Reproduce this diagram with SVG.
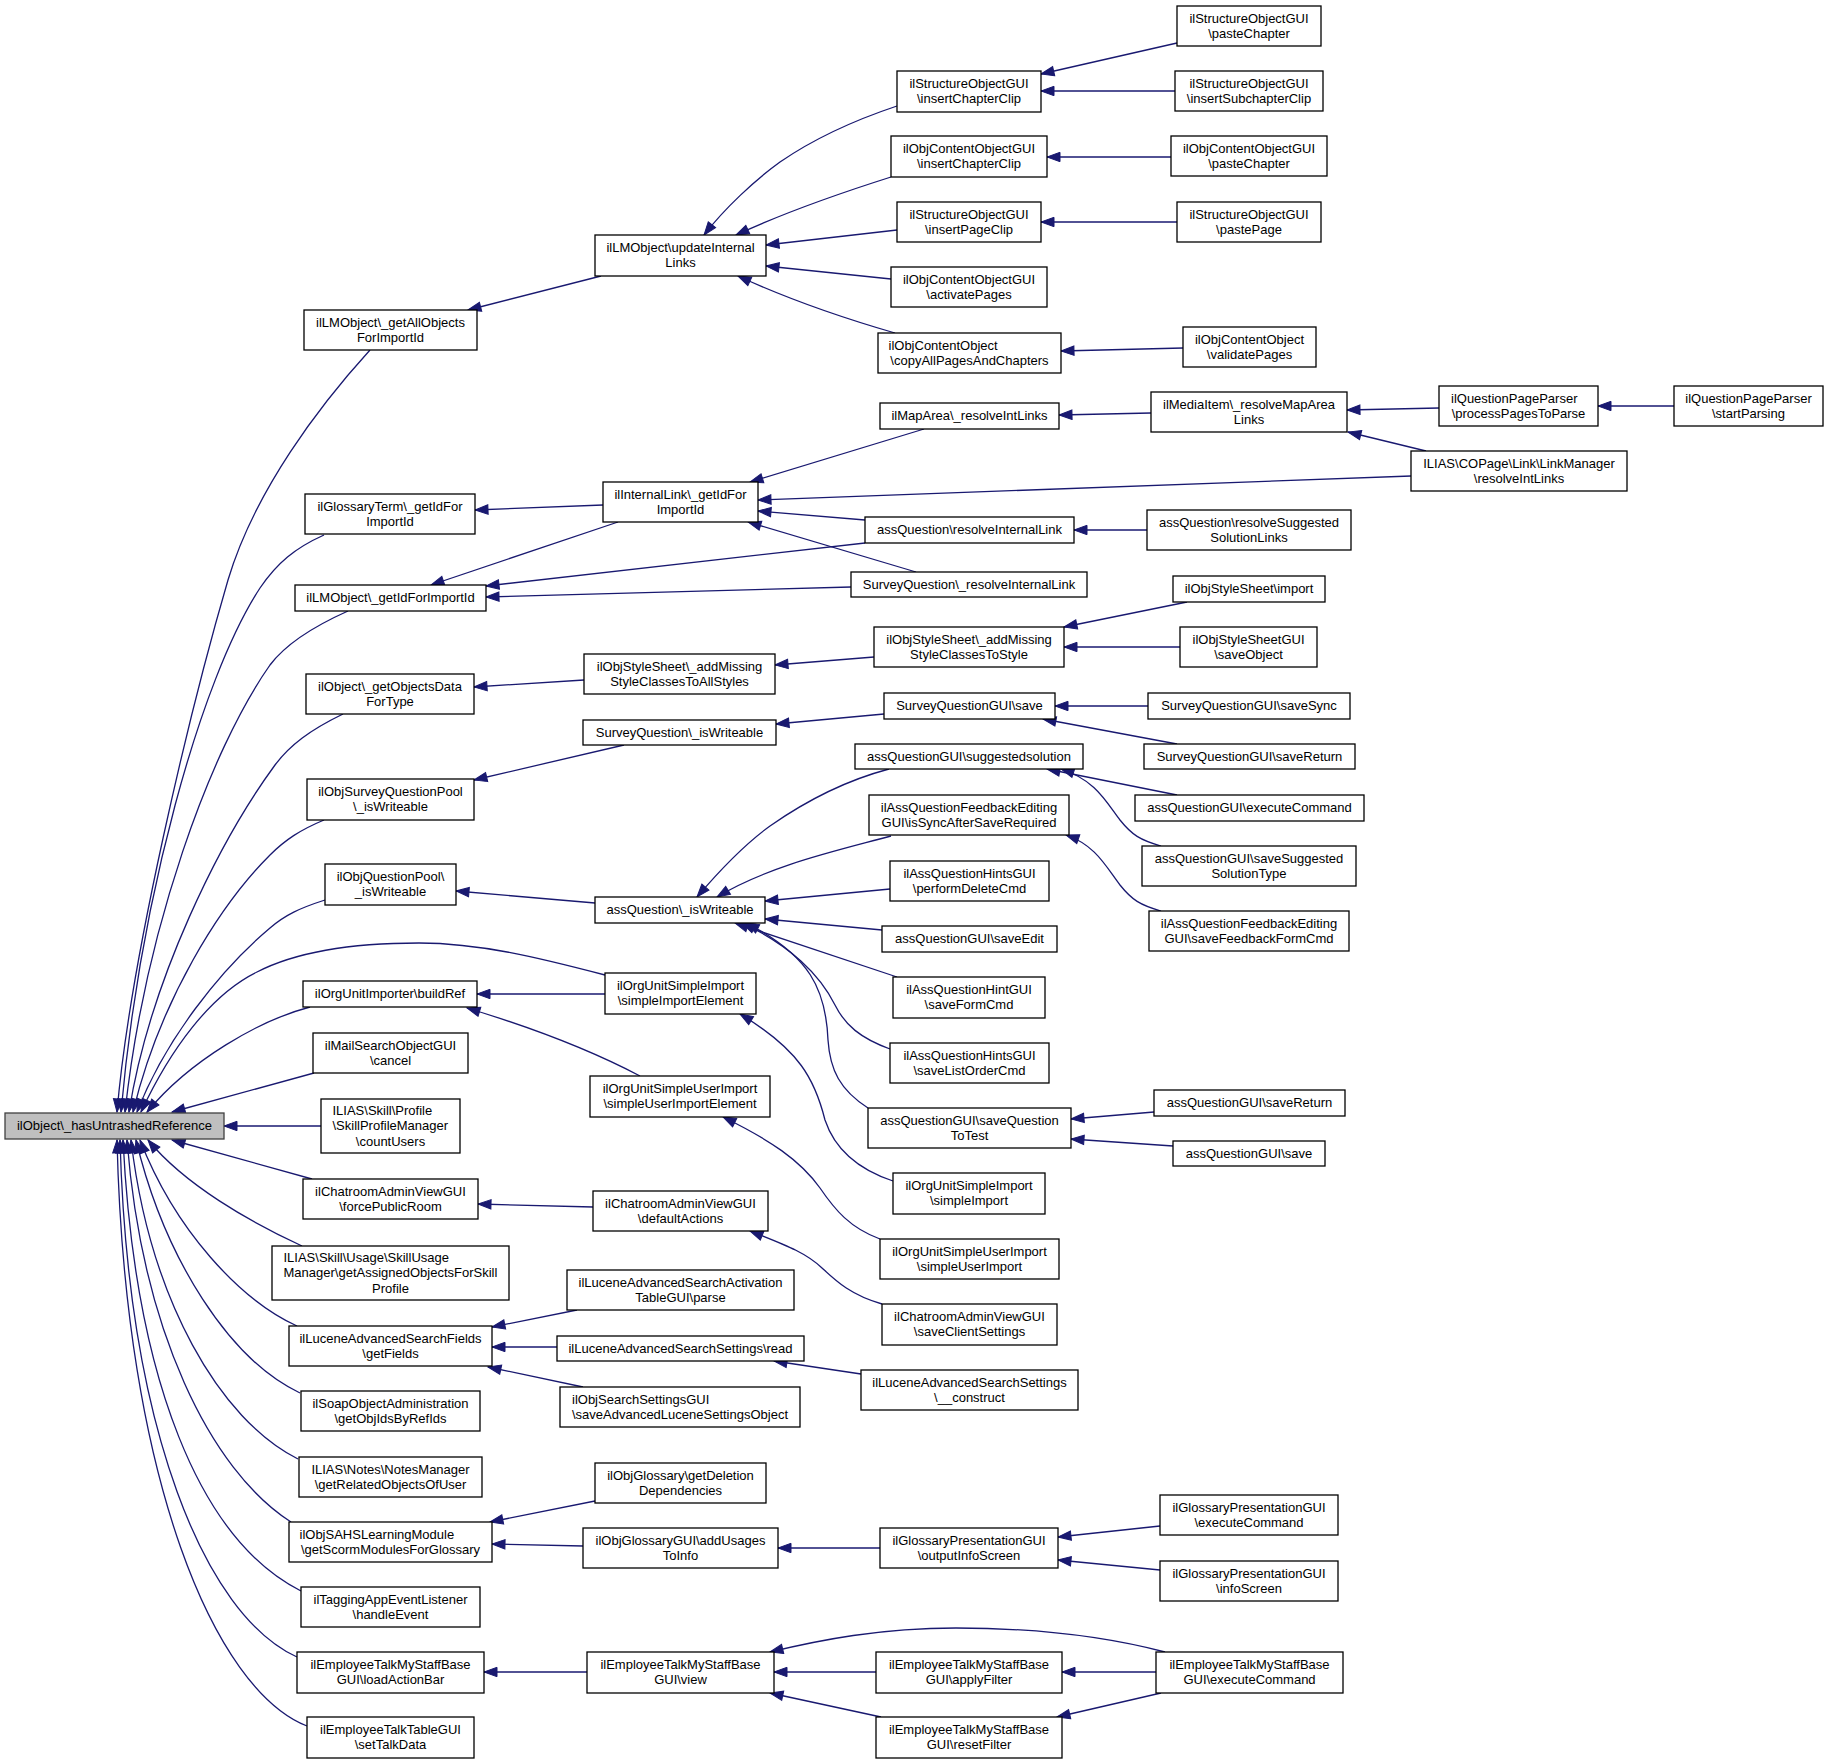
<svg xmlns="http://www.w3.org/2000/svg" width="1828" height="1764" viewBox="0 0 1828 1764">
<style>
.n rect{fill:#fff;stroke:#000;stroke-width:1.3}
#n0 rect{fill:#bfbfbf;stroke:#404040}
.n text{font-family:"Liberation Sans",Arial,Helvetica,sans-serif;font-size:13px;fill:#000}
.n text.m{text-anchor:middle}
#edges path{fill:none;stroke:#191970;stroke-width:1.3;marker-end:url(#ah)}
</style>
<defs>
<marker id="ah" markerWidth="14" markerHeight="10" refX="13" refY="5" orient="auto" markerUnits="userSpaceOnUse" overflow="visible">
<path d="M0,0.3 L13,5 L0,9.7 z" fill="#191970" stroke="#191970" stroke-width="1"/>
</marker>
</defs>
<rect width="1828" height="1764" fill="#fff"/>
<g id="edges">
<path d="M370,350 C320,405 255,490 228,580 C190,710 130,960 117,1112"/>
<path d="M324,535 C295,548 277,563 260,588 C200,680 140,900 121,1112"/>
<path d="M348,611 C310,628 285,645 270,665 C210,750 145,930 125,1112"/>
<path d="M343,714 C310,730 290,745 275,765 C220,840 150,980 129,1112"/>
<path d="M324,820 C300,830 285,840 270,855 C220,905 160,1000 133,1112"/>
<path d="M325,900 C300,908 285,915 270,928 C220,970 165,1040 137,1112"/>
<path d="M605,975 C540,958 480,943 419,943 C340,943 290,955 257,972 C210,995 170,1050 141,1112"/>
<path d="M310,1007 C260,1020 190,1060 147,1112"/>
<path d="M314,1073 L172,1112"/>
<path d="M321,1126 L224,1126"/>
<path d="M312,1179 L172,1140"/>
<path d="M302,1246 C250,1222 185,1185 148,1140"/>
<path d="M297,1326 C240,1300 175,1230 140,1140"/>
<path d="M300,1393 C230,1360 165,1260 136,1140"/>
<path d="M298,1459 C220,1420 150,1300 131,1140"/>
<path d="M291,1522 C210,1470 142,1330 127,1140"/>
<path d="M301,1591 C200,1540 135,1380 123,1140"/>
<path d="M297,1657 C205,1615 128,1430 120,1140"/>
<path d="M307,1726 C215,1690 125,1480 117,1140"/>
<path d="M601,276 L468,310"/>
<path d="M603,505 L475,510"/>
<path d="M618,522 L431,585"/>
<path d="M865,543 L486,586"/>
<path d="M851,587 L486,597"/>
<path d="M584,680 L474,687"/>
<path d="M624,745 L474,780"/>
<path d="M595,903 L456,891"/>
<path d="M605,994 L477,994"/>
<path d="M640,1076 C600,1055 540,1030 467,1008"/>
<path d="M593,1207 L478,1204"/>
<path d="M577,1310 L492,1327"/>
<path d="M557,1347 L492,1347"/>
<path d="M583,1387 L488,1367"/>
<path d="M595,1501 L490,1522"/>
<path d="M583,1546 L492,1544"/>
<path d="M587,1672 L484,1672"/>
<path d="M897,106 C855,120 815,138 780,162 C755,180 725,208 704,235"/>
<path d="M891,177 C850,190 790,210 736,235"/>
<path d="M897,230 L766,245"/>
<path d="M891,279 L766,266"/>
<path d="M895,333 C850,320 790,300 738,276"/>
<path d="M924,429 L750,482"/>
<path d="M1411,476 L758,500"/>
<path d="M865,520 L758,511"/>
<path d="M916,572 L748,522"/>
<path d="M874,657 L775,665"/>
<path d="M884,714 L776,724"/>
<path d="M889,769 C840,782 800,805 770,826 C745,844 720,870 697,897"/>
<path d="M891,836 C840,850 770,865 717,897"/>
<path d="M890,889 L765,901"/>
<path d="M882,930 L765,919"/>
<path d="M897,977 L735,923"/>
<path d="M890,1049 C860,1038 845,1025 835,1005 C820,975 790,945 742,923"/>
<path d="M868,1108 C840,1090 830,1070 828,1040 C826,990 810,955 746,923"/>
<path d="M893,1181 C860,1170 835,1150 825,1120 C815,1080 800,1050 740,1014"/>
<path d="M880,1239 C850,1228 835,1210 820,1188 C800,1160 770,1140 723,1117"/>
<path d="M882,1304 C850,1295 835,1280 822,1268 C805,1252 785,1245 750,1231"/>
<path d="M861,1374 L774,1361"/>
<path d="M880,1548 L778,1548"/>
<path d="M876,1672 L774,1672"/>
<path d="M881,1717 L770,1693"/>
<path d="M1165,1652 C1100,1635 1030,1628 956,1628 C880,1628 820,1640 770,1652"/>
<path d="M1177,43 L1041,74"/>
<path d="M1175,91 L1041,91"/>
<path d="M1171,157 L1047,157"/>
<path d="M1177,222 L1041,222"/>
<path d="M1183,348 L1061,351"/>
<path d="M1151,413 L1059,415"/>
<path d="M1147,530 L1074,530"/>
<path d="M1187,602 L1064,627"/>
<path d="M1180,647 L1064,647"/>
<path d="M1148,706 L1055,706"/>
<path d="M1177,744 L1043,719"/>
<path d="M1177,795 L1047,769"/>
<path d="M1161,846 C1140,840 1132,835 1120,820 C1105,800 1095,780 1061,769"/>
<path d="M1161,911 C1140,905 1132,900 1120,885 C1105,865 1095,845 1066,835"/>
<path d="M1154,1112 L1071,1119"/>
<path d="M1173,1146 L1071,1139"/>
<path d="M1160,1526 L1058,1537"/>
<path d="M1160,1570 L1058,1560"/>
<path d="M1156,1672 L1062,1672"/>
<path d="M1161,1693 L1057,1717"/>
<path d="M1439,408 L1347,410"/>
<path d="M1426,451 L1348,432"/>
<path d="M1674,406 L1598,406"/>
</g>
<g id="nodes">
<g id="n0" class="n"><rect x="5" y="1113" width="219" height="26"/><text class="m" x="114.5" y="1130.3">ilObject\_hasUntrashedReference</text></g>
<g id="n1" class="n"><rect x="304" y="310" width="173" height="40"/><text class="m" x="390.5" y="326.6">ilLMObject\_getAllObjects</text><text class="m" x="390.5" y="341.9">ForImportId</text></g>
<g id="n2" class="n"><rect x="305" y="494" width="170" height="40"/><text class="m" x="390" y="510.6">ilGlossaryTerm\_getIdFor</text><text class="m" x="390" y="525.9">ImportId</text></g>
<g id="n3" class="n"><rect x="295" y="585" width="191" height="26"/><text class="m" x="390.5" y="602.3">ilLMObject\_getIdForImportId</text></g>
<g id="n4" class="n"><rect x="306" y="674" width="168" height="40"/><text class="m" x="390" y="690.6">ilObject\_getObjectsData</text><text class="m" x="390" y="705.9">ForType</text></g>
<g id="n5" class="n"><rect x="307" y="779" width="167" height="41"/><text class="m" x="390.5" y="796.1">ilObjSurveyQuestionPool</text><text class="m" x="390.5" y="811.4">\_isWriteable</text></g>
<g id="n6" class="n"><rect x="325" y="864" width="131" height="41"/><text class="m" x="390.5" y="881.1">ilObjQuestionPool\</text><text class="m" x="390.5" y="896.4">_isWriteable</text></g>
<g id="n7" class="n"><rect x="303" y="981" width="174" height="26"/><text class="m" x="390" y="998.3">ilOrgUnitImporter\buildRef</text></g>
<g id="n8" class="n"><rect x="313" y="1033" width="155" height="40"/><text class="m" x="390.5" y="1049.6">ilMailSearchObjectGUI</text><text class="m" x="390.5" y="1064.9">\cancel</text></g>
<g id="n9" class="n"><rect x="321" y="1099" width="139" height="54"/><text x="332.5" y="1115">ILIAS\Skill\Profile</text><text x="332.5" y="1130.3">\SkillProfileManager</text><text class="m" x="390.5" y="1145.6">\countUsers</text></g>
<g id="n10" class="n"><rect x="303" y="1179" width="175" height="40"/><text class="m" x="390.5" y="1195.6">ilChatroomAdminViewGUI</text><text class="m" x="390.5" y="1210.9">\forcePublicRoom</text></g>
<g id="n11" class="n"><rect x="272" y="1246" width="237" height="54"/><text x="283.5" y="1262">ILIAS\Skill\Usage\SkillUsage</text><text x="283.5" y="1277.3">Manager\getAssignedObjectsForSkill</text><text class="m" x="390.5" y="1292.6">Profile</text></g>
<g id="n12" class="n"><rect x="289" y="1326" width="203" height="40"/><text class="m" x="390.5" y="1342.6">ilLuceneAdvancedSearchFields</text><text class="m" x="390.5" y="1357.9">\getFields</text></g>
<g id="n13" class="n"><rect x="301" y="1391" width="179" height="40"/><text class="m" x="390.5" y="1407.6">ilSoapObjectAdministration</text><text class="m" x="390.5" y="1422.9">\getObjIdsByRefIds</text></g>
<g id="n14" class="n"><rect x="299" y="1457" width="183" height="40"/><text class="m" x="390.5" y="1473.6">ILIAS\Notes\NotesManager</text><text class="m" x="390.5" y="1488.9">\getRelatedObjectsOfUser</text></g>
<g id="n15" class="n"><rect x="289" y="1522" width="203" height="40"/><text x="299.5" y="1538.6">ilObjSAHSLearningModule</text><text class="m" x="390.5" y="1553.9">\getScormModulesForGlossary</text></g>
<g id="n16" class="n"><rect x="301" y="1587" width="179" height="40"/><text class="m" x="390.5" y="1603.6">ilTaggingAppEventListener</text><text class="m" x="390.5" y="1618.9">\handleEvent</text></g>
<g id="n17" class="n"><rect x="297" y="1652" width="187" height="41"/><text class="m" x="390.5" y="1669.1">ilEmployeeTalkMyStaffBase</text><text class="m" x="390.5" y="1684.4">GUI\loadActionBar</text></g>
<g id="n18" class="n"><rect x="307" y="1717" width="167" height="41"/><text class="m" x="390.5" y="1734.1">ilEmployeeTalkTableGUI</text><text class="m" x="390.5" y="1749.4">\setTalkData</text></g>
<g id="n19" class="n"><rect x="595" y="235" width="171" height="41"/><text class="m" x="680.5" y="252.1">ilLMObject\updateInternal</text><text class="m" x="680.5" y="267.4">Links</text></g>
<g id="n20" class="n"><rect x="603" y="482" width="155" height="40"/><text class="m" x="680.5" y="498.6">ilInternalLink\_getIdFor</text><text class="m" x="680.5" y="513.9">ImportId</text></g>
<g id="n21" class="n"><rect x="584" y="654" width="191" height="40"/><text class="m" x="679.5" y="670.6">ilObjStyleSheet\_addMissing</text><text class="m" x="679.5" y="685.9">StyleClassesToAllStyles</text></g>
<g id="n22" class="n"><rect x="583" y="720" width="193" height="25"/><text class="m" x="679.5" y="736.8">SurveyQuestion\_isWriteable</text></g>
<g id="n23" class="n"><rect x="595" y="897" width="170" height="26"/><text class="m" x="680" y="914.3">assQuestion\_isWriteable</text></g>
<g id="n24" class="n"><rect x="605" y="973" width="151" height="41"/><text class="m" x="680.5" y="990.1">ilOrgUnitSimpleImport</text><text class="m" x="680.5" y="1005.4">\simpleImportElement</text></g>
<g id="n25" class="n"><rect x="590" y="1076" width="180" height="41"/><text class="m" x="680" y="1093.1">ilOrgUnitSimpleUserImport</text><text class="m" x="680" y="1108.4">\simpleUserImportElement</text></g>
<g id="n26" class="n"><rect x="593" y="1191" width="175" height="40"/><text class="m" x="680.5" y="1207.6">ilChatroomAdminViewGUI</text><text class="m" x="680.5" y="1222.9">\defaultActions</text></g>
<g id="n27" class="n"><rect x="567" y="1270" width="227" height="40"/><text class="m" x="680.5" y="1286.6">ilLuceneAdvancedSearchActivation</text><text class="m" x="680.5" y="1301.9">TableGUI\parse</text></g>
<g id="n28" class="n"><rect x="557" y="1336" width="247" height="25"/><text class="m" x="680.5" y="1352.8">ilLuceneAdvancedSearchSettings\read</text></g>
<g id="n29" class="n"><rect x="560" y="1387" width="240" height="40"/><text x="572" y="1403.6">ilObjSearchSettingsGUI</text><text class="m" x="680" y="1418.9">\saveAdvancedLuceneSettingsObject</text></g>
<g id="n30" class="n"><rect x="595" y="1463" width="171" height="40"/><text class="m" x="680.5" y="1479.6">ilObjGlossary\getDeletion</text><text class="m" x="680.5" y="1494.9">Dependencies</text></g>
<g id="n31" class="n"><rect x="583" y="1528" width="195" height="40"/><text class="m" x="680.5" y="1544.6">ilObjGlossaryGUI\addUsages</text><text class="m" x="680.5" y="1559.9">ToInfo</text></g>
<g id="n32" class="n"><rect x="587" y="1652" width="187" height="41"/><text class="m" x="680.5" y="1669.1">ilEmployeeTalkMyStaffBase</text><text class="m" x="680.5" y="1684.4">GUI\view</text></g>
<g id="n33" class="n"><rect x="897" y="71" width="144" height="41"/><text class="m" x="969" y="88.1">ilStructureObjectGUI</text><text class="m" x="969" y="103.4">\insertChapterClip</text></g>
<g id="n34" class="n"><rect x="891" y="136" width="156" height="41"/><text class="m" x="969" y="153.1">ilObjContentObjectGUI</text><text class="m" x="969" y="168.4">\insertChapterClip</text></g>
<g id="n35" class="n"><rect x="897" y="202" width="144" height="40"/><text class="m" x="969" y="218.6">ilStructureObjectGUI</text><text class="m" x="969" y="233.9">\insertPageClip</text></g>
<g id="n36" class="n"><rect x="891" y="267" width="156" height="40"/><text class="m" x="969" y="283.6">ilObjContentObjectGUI</text><text class="m" x="969" y="298.9">\activatePages</text></g>
<g id="n37" class="n"><rect x="878" y="333" width="183" height="40"/><text x="888.5" y="349.6">ilObjContentObject</text><text class="m" x="969.5" y="364.9">\copyAllPagesAndChapters</text></g>
<g id="n38" class="n"><rect x="880" y="403" width="179" height="26"/><text class="m" x="969.5" y="420.3">ilMapArea\_resolveIntLinks</text></g>
<g id="n39" class="n"><rect x="865" y="517" width="209" height="26"/><text class="m" x="969.5" y="534.3">assQuestion\resolveInternalLink</text></g>
<g id="n40" class="n"><rect x="851" y="572" width="236" height="25"/><text class="m" x="969" y="588.8">SurveyQuestion\_resolveInternalLink</text></g>
<g id="n41" class="n"><rect x="874" y="627" width="190" height="40"/><text class="m" x="969" y="643.6">ilObjStyleSheet\_addMissing</text><text class="m" x="969" y="658.9">StyleClassesToStyle</text></g>
<g id="n42" class="n"><rect x="884" y="693" width="171" height="26"/><text class="m" x="969.5" y="710.3">SurveyQuestionGUI\save</text></g>
<g id="n43" class="n"><rect x="855" y="744" width="228" height="25"/><text class="m" x="969" y="760.8">assQuestionGUI\suggestedsolution</text></g>
<g id="n44" class="n"><rect x="869" y="795" width="200" height="40"/><text class="m" x="969" y="811.6">ilAssQuestionFeedbackEditing</text><text class="m" x="969" y="826.9">GUI\isSyncAfterSaveRequired</text></g>
<g id="n45" class="n"><rect x="890" y="861" width="159" height="40"/><text class="m" x="969.5" y="877.6">ilAssQuestionHintsGUI</text><text class="m" x="969.5" y="892.9">\performDeleteCmd</text></g>
<g id="n46" class="n"><rect x="882" y="926" width="175" height="26"/><text class="m" x="969.5" y="943.3">assQuestionGUI\saveEdit</text></g>
<g id="n47" class="n"><rect x="893" y="977" width="152" height="41"/><text class="m" x="969" y="994.1">ilAssQuestionHintGUI</text><text class="m" x="969" y="1009.4">\saveFormCmd</text></g>
<g id="n48" class="n"><rect x="890" y="1043" width="159" height="40"/><text class="m" x="969.5" y="1059.6">ilAssQuestionHintsGUI</text><text class="m" x="969.5" y="1074.9">\saveListOrderCmd</text></g>
<g id="n49" class="n"><rect x="868" y="1108" width="203" height="40"/><text class="m" x="969.5" y="1124.6">assQuestionGUI\saveQuestion</text><text class="m" x="969.5" y="1139.9">ToTest</text></g>
<g id="n50" class="n"><rect x="893" y="1173" width="152" height="41"/><text class="m" x="969" y="1190.1">ilOrgUnitSimpleImport</text><text class="m" x="969" y="1205.4">\simpleImport</text></g>
<g id="n51" class="n"><rect x="880" y="1239" width="179" height="40"/><text class="m" x="969.5" y="1255.6">ilOrgUnitSimpleUserImport</text><text class="m" x="969.5" y="1270.9">\simpleUserImport</text></g>
<g id="n52" class="n"><rect x="882" y="1304" width="175" height="41"/><text class="m" x="969.5" y="1321.1">ilChatroomAdminViewGUI</text><text class="m" x="969.5" y="1336.4">\saveClientSettings</text></g>
<g id="n53" class="n"><rect x="861" y="1370" width="217" height="40"/><text class="m" x="969.5" y="1386.6">ilLuceneAdvancedSearchSettings</text><text class="m" x="969.5" y="1401.9">\__construct</text></g>
<g id="n54" class="n"><rect x="880" y="1528" width="178" height="40"/><text class="m" x="969" y="1544.6">ilGlossaryPresentationGUI</text><text class="m" x="969" y="1559.9">\outputInfoScreen</text></g>
<g id="n55" class="n"><rect x="876" y="1652" width="186" height="41"/><text class="m" x="969" y="1669.1">ilEmployeeTalkMyStaffBase</text><text class="m" x="969" y="1684.4">GUI\applyFilter</text></g>
<g id="n56" class="n"><rect x="876" y="1717" width="186" height="41"/><text class="m" x="969" y="1734.1">ilEmployeeTalkMyStaffBase</text><text class="m" x="969" y="1749.4">GUI\resetFilter</text></g>
<g id="n57" class="n"><rect x="1177" y="6" width="144" height="40"/><text class="m" x="1249" y="22.6">ilStructureObjectGUI</text><text class="m" x="1249" y="37.9">\pasteChapter</text></g>
<g id="n58" class="n"><rect x="1175" y="71" width="148" height="40"/><text class="m" x="1249" y="87.6">ilStructureObjectGUI</text><text class="m" x="1249" y="102.9">\insertSubchapterClip</text></g>
<g id="n59" class="n"><rect x="1171" y="136" width="156" height="40"/><text class="m" x="1249" y="152.6">ilObjContentObjectGUI</text><text class="m" x="1249" y="167.9">\pasteChapter</text></g>
<g id="n60" class="n"><rect x="1177" y="202" width="144" height="40"/><text class="m" x="1249" y="218.6">ilStructureObjectGUI</text><text class="m" x="1249" y="233.9">\pastePage</text></g>
<g id="n61" class="n"><rect x="1183" y="327" width="133" height="40"/><text class="m" x="1249.5" y="343.6">ilObjContentObject</text><text class="m" x="1249.5" y="358.9">\validatePages</text></g>
<g id="n62" class="n"><rect x="1151" y="392" width="196" height="40"/><text class="m" x="1249" y="408.6">ilMediaItem\_resolveMapArea</text><text class="m" x="1249" y="423.9">Links</text></g>
<g id="n63" class="n"><rect x="1147" y="510" width="204" height="40"/><text class="m" x="1249" y="526.6">assQuestion\resolveSuggested</text><text class="m" x="1249" y="541.9">SolutionLinks</text></g>
<g id="n64" class="n"><rect x="1173" y="576" width="152" height="26"/><text class="m" x="1249" y="593.3">ilObjStyleSheet\import</text></g>
<g id="n65" class="n"><rect x="1180" y="627" width="137" height="40"/><text class="m" x="1248.5" y="643.6">ilObjStyleSheetGUI</text><text class="m" x="1248.5" y="658.9">\saveObject</text></g>
<g id="n66" class="n"><rect x="1148" y="693" width="202" height="26"/><text class="m" x="1249" y="710.3">SurveyQuestionGUI\saveSync</text></g>
<g id="n67" class="n"><rect x="1144" y="744" width="211" height="25"/><text class="m" x="1249.5" y="760.8">SurveyQuestionGUI\saveReturn</text></g>
<g id="n68" class="n"><rect x="1135" y="795" width="229" height="26"/><text class="m" x="1249.5" y="812.3">assQuestionGUI\executeCommand</text></g>
<g id="n69" class="n"><rect x="1142" y="846" width="214" height="40"/><text class="m" x="1249" y="862.6">assQuestionGUI\saveSuggested</text><text class="m" x="1249" y="877.9">SolutionType</text></g>
<g id="n70" class="n"><rect x="1149" y="911" width="200" height="40"/><text class="m" x="1249" y="927.6">ilAssQuestionFeedbackEditing</text><text class="m" x="1249" y="942.9">GUI\saveFeedbackFormCmd</text></g>
<g id="n71" class="n"><rect x="1154" y="1090" width="191" height="26"/><text class="m" x="1249.5" y="1107.3">assQuestionGUI\saveReturn</text></g>
<g id="n72" class="n"><rect x="1173" y="1141" width="152" height="25"/><text class="m" x="1249" y="1157.8">assQuestionGUI\save</text></g>
<g id="n73" class="n"><rect x="1160" y="1495" width="178" height="40"/><text class="m" x="1249" y="1511.6">ilGlossaryPresentationGUI</text><text class="m" x="1249" y="1526.9">\executeCommand</text></g>
<g id="n74" class="n"><rect x="1160" y="1561" width="178" height="40"/><text class="m" x="1249" y="1577.6">ilGlossaryPresentationGUI</text><text class="m" x="1249" y="1592.9">\infoScreen</text></g>
<g id="n75" class="n"><rect x="1156" y="1652" width="187" height="41"/><text class="m" x="1249.5" y="1669.1">ilEmployeeTalkMyStaffBase</text><text class="m" x="1249.5" y="1684.4">GUI\executeCommand</text></g>
<g id="n76" class="n"><rect x="1439" y="386" width="159" height="40"/><text x="1451" y="402.6">ilQuestionPageParser</text><text class="m" x="1518.5" y="417.9">\processPagesToParse</text></g>
<g id="n77" class="n"><rect x="1411" y="451" width="216" height="40"/><text class="m" x="1519" y="467.6">ILIAS\COPage\Link\LinkManager</text><text class="m" x="1519" y="482.9">\resolveIntLinks</text></g>
<g id="n78" class="n"><rect x="1674" y="386" width="149" height="40"/><text class="m" x="1748.5" y="402.6">ilQuestionPageParser</text><text class="m" x="1748.5" y="417.9">\startParsing</text></g>
</g>
</svg>
